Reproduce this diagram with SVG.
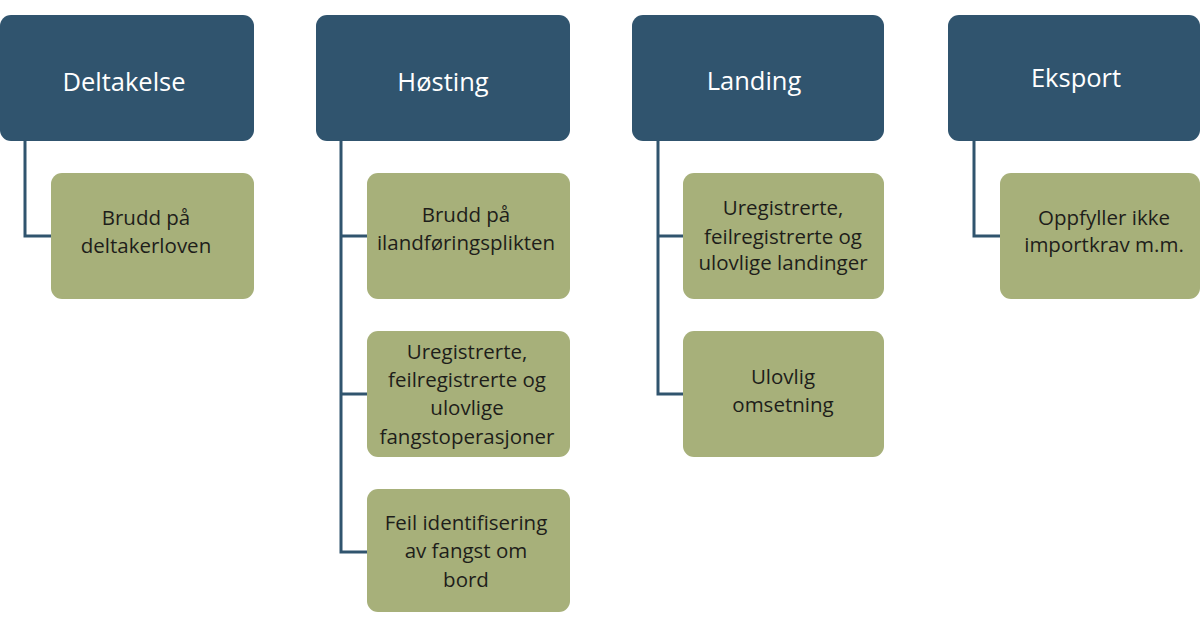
<svg xmlns="http://www.w3.org/2000/svg" width="1200" height="628" viewBox="0 0 1200 628">
<style>
.hdr{fill:#30546e;}
.sub{fill:#a7b07a;}
.ht{font-family:"Open Sans","Liberation Sans",sans-serif;font-size:25.5px;fill:#ffffff;text-anchor:middle;}
.st{font-family:"Open Sans","Liberation Sans",sans-serif;font-size:20.5px;fill:#1e1e1a;text-anchor:middle;}
.con{fill:none;stroke:#30546e;stroke-width:3;}
</style>
<rect width="1200" height="628" fill="#ffffff"/>
<g id="connectors">
<path class="con" d="M25,141 V236 H51"/>
<path class="con" d="M341,141 V552 H367 M341,236 H367 M341,394 H367"/>
<path class="con" d="M658,141 V394 H683 M658,236 H683"/>
<path class="con" d="M974,141 V236 H1000"/>
</g>
<g id="deltakelse"><rect class="hdr" x="0" y="15" width="254" height="126" rx="11"/><text class="ht" x="124" y="91">Deltakelse</text></g>
<g id="hosting"><rect class="hdr" x="316" y="15" width="254" height="126" rx="11"/><text class="ht" x="443" y="91">Høsting</text></g>
<g id="landing"><rect class="hdr" x="632" y="15" width="252" height="126" rx="11"/><text class="ht" x="754" y="90">Landing</text></g>
<g id="eksport"><rect class="hdr" x="948" y="15" width="252" height="126" rx="11"/><text class="ht" x="1076" y="87">Eksport</text></g>
<g id="brudd-deltaker"><rect class="sub" x="51" y="173" width="203" height="126" rx="11"/><text class="st" x="146" y="225">Brudd på</text><text class="st" x="146" y="253">deltakerloven</text></g>
<g id="brudd-iland"><rect class="sub" x="367" y="173" width="203" height="126" rx="11"/><text class="st" x="466" y="222">Brudd på</text><text class="st" x="466" y="250">ilandføringsplikten</text></g>
<g id="fangstop"><rect class="sub" x="367" y="331" width="203" height="126" rx="11"/><text class="st" x="467" y="359">Uregistrerte,</text><text class="st" x="467" y="387">feilregistrerte og</text><text class="st" x="467" y="415">ulovlige</text><text class="st" x="467" y="444">fangstoperasjoner</text></g>
<g id="feilid"><rect class="sub" x="367" y="489" width="203" height="123" rx="11"/><text class="st" x="466" y="530">Feil identifisering</text><text class="st" x="466" y="558">av fangst om</text><text class="st" x="466" y="587">bord</text></g>
<g id="landinger"><rect class="sub" x="683" y="173" width="201" height="126" rx="11"/><text class="st" x="783" y="215">Uregistrerte,</text><text class="st" x="783" y="244">feilregistrerte og</text><text class="st" x="783" y="270">ulovlige landinger</text></g>
<g id="omsetning"><rect class="sub" x="683" y="331" width="201" height="126" rx="11"/><text class="st" x="783" y="384">Ulovlig</text><text class="st" x="783" y="412">omsetning</text></g>
<g id="importkrav"><rect class="sub" x="1000" y="173" width="200" height="126" rx="11"/><text class="st" x="1104" y="225">Oppfyller ikke</text><text class="st" x="1104" y="252">importkrav m.m.</text></g>
</svg>
